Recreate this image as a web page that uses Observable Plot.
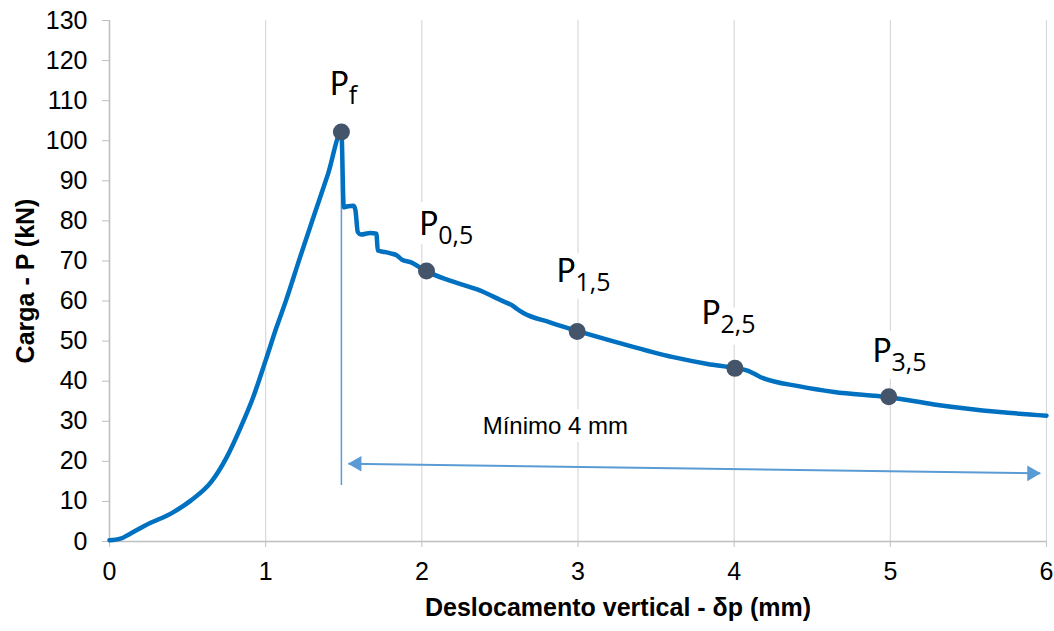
<!DOCTYPE html>
<html>
<head>
<meta charset="utf-8">
<script src="https://cdn.jsdelivr.net/npm/d3@7"></script>
<script src="https://cdn.jsdelivr.net/npm/@observablehq/plot@0.6"></script>
<style>
  html, body { margin: 0; padding: 0; background: #ffffff; }
  #chart svg { display: block; }
</style>
</head>
<body>
<div id="chart"></div>
<script>
// Load–displacement curve (mm, kN)
const curveX = [0, 0.07, 0.13, 0.26, 0.39, 0.52, 0.65, 0.75, 0.84, 0.92, 1.0, 1.07, 1.13, 1.22, 1.31, 1.40, 1.485,
  1.50, 1.52, 1.564, 1.575, 1.59, 1.61, 1.67, 1.709, 1.718, 1.767, 1.80, 1.84, 1.873, 1.927, 2.03, 2.18, 2.375,
  2.50, 2.59, 2.61, 2.65, 2.82, 3.0, 3.25, 3.61, 3.83, 4.0, 4.09, 4.17, 4.42, 4.64, 4.99, 5.28, 5.70, 6.0];
const curveY = [0.3, 0.7, 1.9, 4.6, 6.9, 10.2, 14.8, 21.0, 28.5, 36.0, 45.2, 53.5, 60.1, 70.9, 81.4, 91.8, 102.1,
  83.4, 83.6, 83.8, 82.6, 77.2, 76.6, 77.0, 76.8, 72.6, 72.2, 71.9, 71.4, 70.3, 69.7, 67.4, 65.1, 62.6,
  60.3, 58.6, 58.0, 57.0, 54.7, 52.5, 49.7, 46.0, 44.3, 43.3, 42.6, 41.0, 38.7, 37.3, 36.0, 34.2, 32.3, 31.4];

// Marked points
const pointX = [1.485, 2.03, 2.995, 4.005, 4.99];
const pointY = [102.2, 67.5, 52.4, 43.2, 36.1];
const labelMain = ["P", "P", "P", "P", "P"];
const labelSub = ["f", "0,5", "1,5", "2,5", "3,5"];
const labelX = [1.430, 2.002, 2.881, 3.810, 4.905];
const labelY = [111.3, 76.4, 64.7, 54.3, 44.7];

// Annotation: vertical marker and "Mínimo 4 mm" span
const markerX = [1.485];
const markerTop = [101.5];
const markerBottom = [14.0];
const spanX1 = [1.53];
const spanY1 = [19.4];
const spanX2 = [5.96];
const spanY2 = [17.0];
const spanText = ["Mínimo 4 mm"];
const spanTextX = [2.855];
const spanTextY = [28.7];

// Axes
const xTicks = [0, 1, 2, 3, 4, 5, 6];
const yTicks = [0, 10, 20, 30, 40, 50, 60, 70, 80, 90, 100, 110, 120, 130];
const xTitle = "Deslocamento vertical - δp (mm)";
const yTitle = "Carga - P (kN)";

const curve = curveX.map((x, i) => ({x, y: curveY[i]}));
const points = pointX.map((x, i) => ({x, y: pointY[i], main: labelMain[i], sub: labelSub[i], lx: labelX[i], ly: labelY[i]}));
const marker = markerX.map((x, i) => ({x, y1: markerTop[i], y2: markerBottom[i]}));
const span = spanX1.map((x1, i) => ({x1, y1: spanY1[i], x2: spanX2[i], y2: spanY2[i]}));
const spanLabel = spanText.map((t, i) => ({t, x: spanTextX[i], y: spanTextY[i]}));

const F = "'Liberation Sans', Arial, sans-serif";
const FL = "'Open Sans', 'Noto Sans', sans-serif";
const blue = "#0070c0";
const lightBlue = "#5b9bd5";
const dotColor = "#44546a";

const chart = Plot.plot({
  width: 1054,
  height: 631,
  marginLeft: 109,
  marginRight: 8,
  marginTop: 20,
  marginBottom: 90,
  style: {fontFamily: F, fontSize: "25px", color: "#000", background: "#fff", overflow: "visible"},
  x: {domain: [0, 6]},
  y: {domain: [0, 130]},
  marks: [
    Plot.gridX(xTicks, {stroke: "#d9d9d9", strokeOpacity: 1, strokeWidth: 1.2}),
    Plot.axisX(xTicks, {tickSize: 6, tickPadding: 15, stroke: "#bfbfbf", fill: "#000", label: null, fontSize: 25, tickFormat: (d) => String(d)}),
    Plot.axisY(yTicks, {tickSize: 7, tickPadding: 15, stroke: "#bfbfbf", fill: "#000", label: null, fontSize: 25, tickFormat: (d) => String(d)}),
    Plot.ruleY([0], {stroke: "#bfbfbf", strokeWidth: 1.5}),
    Plot.ruleX([0], {stroke: "#bfbfbf", strokeWidth: 1.5}),
    // labels with white halo (breaks gridlines like the original)
    Plot.text(points, {x: "lx", y: "ly", text: "main", textAnchor: "start", lineAnchor: "bottom",
      fontFamily: FL, fontSize: 32, fill: "#000", stroke: "white", strokeWidth: 18, dx: -3}),
    Plot.text(points, {x: "lx", y: "ly", text: "sub", textAnchor: "start", lineAnchor: "bottom",
      fontFamily: FL, fontSize: 25, fill: "#000", stroke: "white", strokeWidth: 18, dx: 16, dy: 9}),
    Plot.text(points, {x: "lx", y: "ly", text: "main", textAnchor: "start", lineAnchor: "bottom",
      fontFamily: FL, fontSize: 32, fill: "#000", dx: -3}),
    Plot.text(spanLabel, {x: "x", y: "y", text: "t", fontFamily: F, fontSize: 24, fill: "#000",
      stroke: "white", strokeWidth: 16}),
    // marker line and span arrow
    Plot.ruleX(marker, {x: "x", y1: "y1", y2: "y2", stroke: lightBlue, strokeWidth: 1.5}),
    Plot.link(span, {x1: "x1", y1: "y1", x2: "x2", y2: "y2", stroke: lightBlue, strokeWidth: 2}),
    Plot.dot(span, {x: "x1", y: "y1", symbol: "triangle", r: 5.8, rotate: -90, fill: lightBlue, stroke: null, dx: 8.5}),
    Plot.dot(span, {x: "x2", y: "y2", symbol: "triangle", r: 5.8, rotate: 90, fill: lightBlue, stroke: null, dx: -8.5}),
    // main curve
    Plot.line(curve, {x: "x", y: "y", stroke: blue, strokeWidth: 4.5, curve: "monotone-x", strokeLinejoin: "round", strokeLinecap: "round"}),
    Plot.dot(points, {x: "x", y: "y", r: 8.5, fill: dotColor, stroke: null}),
    // axis titles
    Plot.text([xTitle], {frameAnchor: "bottom", dx: 40, dy: 74, lineAnchor: "bottom", fontWeight: "bold", fontSize: 25, fill: "#000", fontFamily: F}),
    Plot.text([yTitle], {frameAnchor: "left", dx: -84, rotate: -90, textAnchor: "middle", lineAnchor: "middle", fontWeight: "bold", fontSize: 25, fill: "#000", fontFamily: F})
  ]
});
document.getElementById("chart").appendChild(chart);
</script>
</body>
</html>
